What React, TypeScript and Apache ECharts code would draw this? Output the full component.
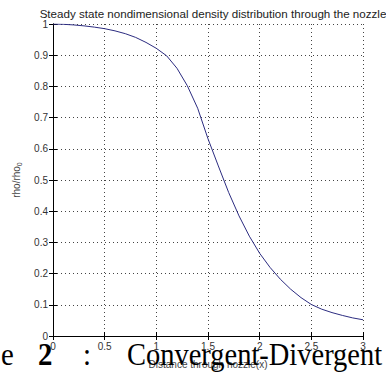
import React, { useEffect, useRef } from "react";
import * as echarts from "echarts";

const xValues = [0, 0.1, 0.2, 0.3, 0.4, 0.5, 0.6, 0.7, 0.8, 0.9, 1.0, 1.1, 1.2, 1.3, 1.4, 1.5, 1.6, 1.7, 1.8, 1.9, 2.0, 2.1, 2.2, 2.3, 2.4, 2.5, 2.6, 2.7, 2.8, 2.9, 3.0];
const rhoValues = [1.0, 0.999, 0.997, 0.994, 0.99, 0.985, 0.978, 0.969, 0.957, 0.941, 0.922, 0.898, 0.858, 0.802, 0.73, 0.632, 0.545, 0.46, 0.385, 0.32, 0.265, 0.22, 0.182, 0.15, 0.123, 0.101, 0.086, 0.075, 0.066, 0.058, 0.052];

const titleText = "Steady state nondimensional density distribution through the nozzle";
const xLabel = "Distance through nozzle(x)";
const captionParts = ["e", "2", ":", "Convergent-Divergent"];

export default function App() {
  const ref = useRef<HTMLDivElement>(null);
  useEffect(() => {
    if (!ref.current) return;
    const chart = echarts.init(ref.current, null, { renderer: "svg" });
    const tickFont = { fontSize: 10, color: "#333", fontFamily: "Liberation Sans" };
    const gridLine = { show: true, lineStyle: { type: [1, 3] as any, color: "#444", width: 1 } };
    const axisLine = { show: true, lineStyle: { color: "#000", width: 1 } };
    const serif = "Liberation Serif";
    chart.setOption({
      animation: false,
      backgroundColor: "#fff",
      title: {
        text: titleText,
        left: 208,
        top: 2,
        textAlign: "center",
        textStyle: { fontSize: 11.6, fontWeight: "normal", color: "#222", fontFamily: "Liberation Sans" },
      },
      grid: { left: 53, right: 23, top: 24, bottom: 38 },
      xAxis: [
        {
          type: "value",
          min: 0,
          max: 3,
          interval: 0.5,
          name: xLabel,
          nameLocation: "middle",
          nameGap: 23,
          nameTextStyle: { fontSize: 10, color: "#444", fontFamily: "Liberation Sans" },
          axisLine,
          axisTick: { show: true, inside: true, length: 4, lineStyle: { color: "#000" } },
          axisLabel: { ...tickFont, margin: 5 },
          splitLine: gridLine,
        },
        {
          type: "value",
          position: "top",
          min: 0,
          max: 3,
          interval: 0.5,
          axisLine,
          axisTick: { show: true, inside: true, length: 4, lineStyle: { color: "#000" } },
          axisLabel: { show: false },
          splitLine: { show: false },
        },
      ],
      yAxis: [
        {
          type: "value",
          min: 0,
          max: 1,
          interval: 0.1,
          name: "rho/rho{sub|0}",
          nameLocation: "middle",
          nameGap: 28,
          nameTextStyle: {
            fontSize: 10,
            color: "#444",
            fontFamily: "Liberation Sans",
            rich: { sub: { fontSize: 7, color: "#444", fontFamily: "Liberation Sans", padding: [6, 0, 0, 0] } },
          },
          axisLine,
          axisTick: { show: true, inside: true, length: 4, lineStyle: { color: "#000" } },
          axisLabel: { ...tickFont, margin: 5 },
          splitLine: gridLine,
        },
        {
          type: "value",
          position: "right",
          min: 0,
          max: 1,
          interval: 0.1,
          axisLine,
          axisTick: { show: true, inside: true, length: 4, lineStyle: { color: "#000" } },
          axisLabel: { show: false },
          splitLine: { show: false },
        },
      ],
      series: [
        {
          type: "line",
          data: xValues.map((x, i) => [x, rhoValues[i]]),
          showSymbol: false,
          symbol: "none",
          lineStyle: { color: "#2c2c80", width: 1 },
        },
      ],
      graphic: [
        {
          type: "text",
          z: 100,
          x: 1,
          y: 354,
          scaleX: 0.9,
          style: { text: captionParts[0], font: `32px "${serif}"`, fill: "#000", verticalAlign: "middle" },
        },
        {
          type: "text",
          z: 100,
          x: 38,
          y: 354,
          scaleX: 0.9,
          style: { text: captionParts[1], font: `bold 32px "${serif}"`, fill: "#000", verticalAlign: "middle" },
        },
        {
          type: "text",
          z: 100,
          x: 83,
          y: 354,
          scaleX: 0.9,
          style: { text: captionParts[2], font: `32px "${serif}"`, fill: "#000", verticalAlign: "middle" },
        },
        {
          type: "text",
          z: 100,
          x: 127,
          y: 354,
          scaleX: 0.89,
          style: { text: captionParts[3], font: `32px "${serif}"`, fill: "#000", verticalAlign: "middle" },
        },
      ],
    });
    return () => chart.dispose();
  }, []);
  return <div ref={ref} style={{ position: "absolute", left: 0, top: 0, width: 386, height: 374 }} />;
}
